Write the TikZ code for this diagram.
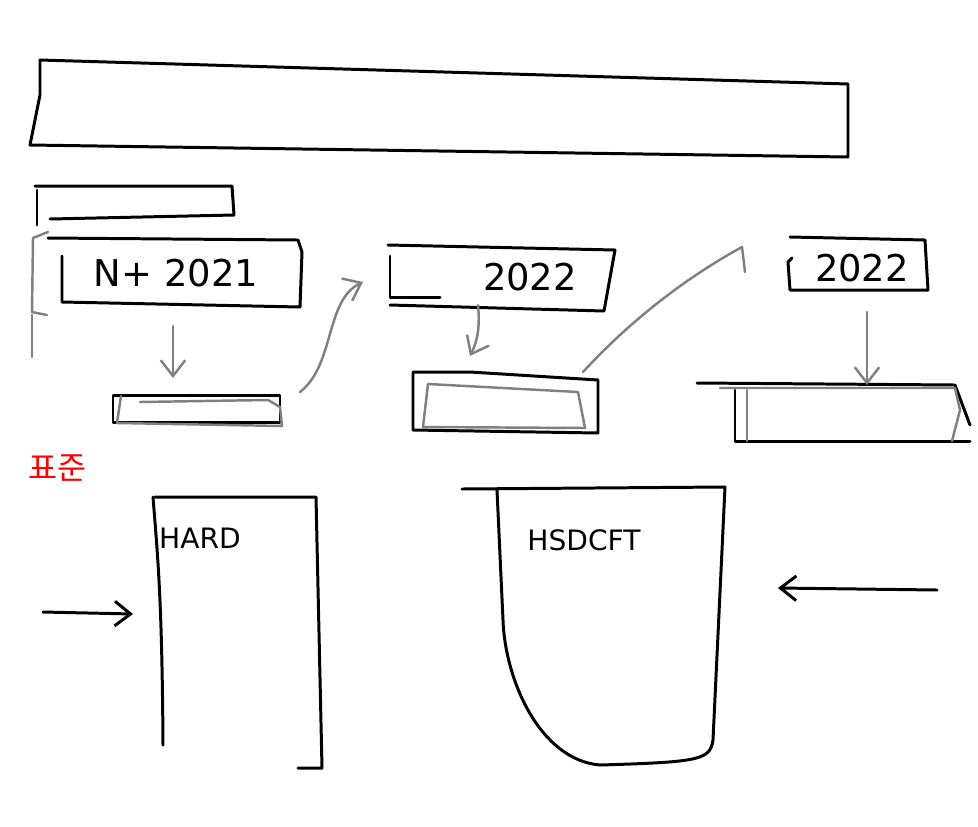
\documentclass[tikz,border=0pt]{standalone}
\usepackage{fontspec}
\setmainfont{DejaVu Sans}
\newfontfamily\krfont{Noto Sans CJK KR}
\usetikzlibrary{arrows.meta}
\begin{document}
\begin{tikzpicture}
      [x = .02cm, y = -.02cm, line width = 1.7pt, line cap = round, line join = round,
       pencil/.style = {gray, line width = 1.4pt},
       barb/.style = {-{Straight Barb[length = 9pt, width = 14pt]}},
       hand/.style = {font = \fontsize{21}{21}\selectfont},
       label/.style = {font = \fontsize{16}{16}\selectfont}]
      \useasboundingbox (0,0) rectangle (978,826);
      % title bar
      \draw (40,60) -- (848,84) -- (848,157) -- (30,145) -- (40,95) -- cycle;
      % small open box
      \draw (35,186) -- (232,186) -- (234,215) -- (50,219);
      \draw (37,190) -- (37,225);
      % gray brace
      \draw[pencil] (48,232) -- (33,238) -- (32,312) -- (47,315);
      \draw[pencil] (32,315) -- (32,357);
      % year boxes
      \node[hand] (n2021) at (176,273) {N+ 2021};
      \draw (48,238) -- (298,240) -- (302,252) -- (300,307) -- (62,302) -- (62,256);
      \node[hand] (y2022) at (530,277) {2022};
      \draw (388,245) -- (615,250) -- (604,311) -- (390,305);
      \draw (390,256) -- (390,297) -- (440,297);
      \node[hand] (z2022) at (862,268) {2022};
      \draw (792,258) -- (788,262) -- (790,290) -- (928,290) -- (925,240) -- (790,237);
      % result boxes
      \draw (113,395) rectangle (280,422);
      \draw[pencil] (140,402) -- (268,400) -- (280,407) -- (282,426) -- (117,423) -- (121,396);
      \draw (413,372) -- (470,372) -- (598,380) -- (598,433) -- (413,430) -- cycle;
      \draw[pencil] (428,384) -- (578,392) -- (585,428) -- (423,427) -- cycle;
      \draw (697,383) -- (955,385) -- (970,425);
      \draw (735,390) -- (735,441) -- (970,441);
      \draw[pencil] (720,388) -- (955,388) -- (960,410) -- (952,441);
      \draw[pencil] (747,390) -- (747,441);
      % arrows between the boxes
      \coordinate (d1) at (173,326);
      \coordinate (d1e) at (173,378);
      \coordinate (u1) at (300,392);
      \coordinate (u1e) at (363,282);
      \coordinate (d2) at (478,305);
      \coordinate (d2e) at (470,356);
      \coordinate (u2) at (583,372);
      \coordinate (u2e) at (742,247);
      \coordinate (d3) at (867,312);
      \coordinate (d3e) at (867,385);
      \draw[pencil, barb] (d1) -- (d1e);
      \draw[pencil, barb] (u1) .. controls (335,365) and (325,300) .. (u1e);
      \draw[pencil, barb] (d2) .. controls (480,325) and (478,340) .. (d2e);
      \draw[pencil] (u2) .. controls (640,310) and (700,270) .. (u2e) -- (745,272);
      \draw[pencil, barb] (d3) -- (d3e);
      % red note
      \node[text = red, font = \krfont\fontsize{18}{18}\selectfont] (note) at (58,468) {표준};
      % sheets
      \draw (155,497) -- (316,497) -- (322,768) -- (298,768);
      \draw (153,497) .. controls (158,560) and (162,600) .. (163,745);
      \node[label] (hard) at (200,538) {HARD};
      \draw (462,489) -- (725,487) -- (713,740) .. controls (710,760) and (700,762) .. (600,765)
            .. controls (540,760) and (505,680) .. (503,620) -- (497,490);
      \node[label] (hsdcft) at (584,540) {HSDCFT};
      % side arrows
      \coordinate (l1) at (43,612);
      \coordinate (l1e) at (133,614);
      \coordinate (r1) at (937,590);
      \coordinate (r1e) at (778,588);
      \draw[barb] (l1) -- (l1e);
      \draw[barb] (r1) -- (r1e);
\end{tikzpicture}
\end{document}
